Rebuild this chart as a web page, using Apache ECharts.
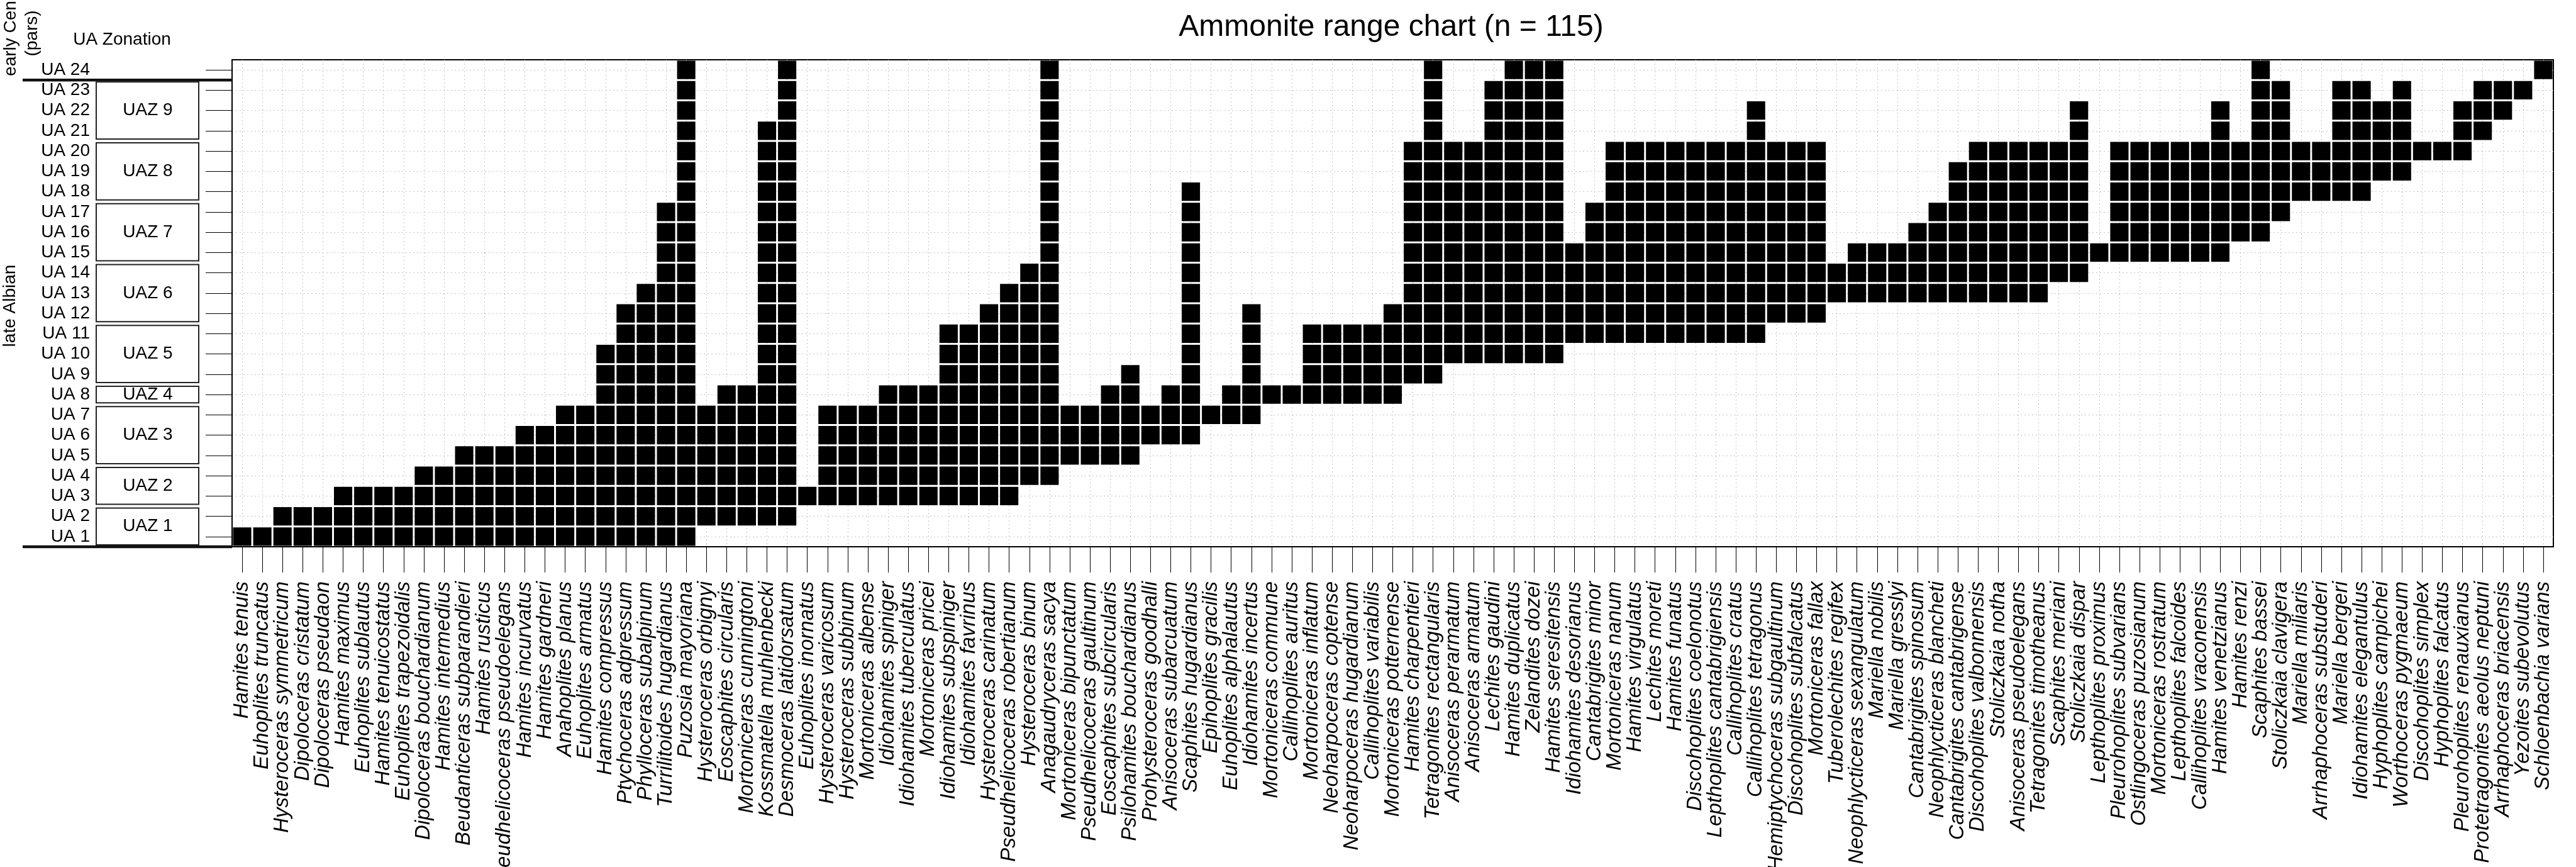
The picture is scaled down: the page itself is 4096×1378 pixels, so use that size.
<!DOCTYPE html>
<html>
<head>
<meta charset="utf-8">
<title>Ammonite range chart</title>
<script src="https://cdn.jsdelivr.net/npm/echarts@6/dist/echarts.min.js"></script>
<style>
  html, body { margin: 0; padding: 0; background: #fff; }
  #main { width: 4096px; height: 1378px; }
</style>
</head>
<body>
<div id="main"></div>
<script type="text/javascript">
// taxa in plotting order (x axis)
var taxa = [
  'Hamites tenuis', 'Euhoplites truncatus', 'Hysteroceras symmetricum', 'Dipoloceras cristatum',
  'Dipoloceras pseudaon', 'Hamites maximus', 'Euhoplites sublautus', 'Hamites tenuicostatus',
  'Euhoplites trapezoidalis', 'Dipoloceras bouchardianum', 'Hamites intermedius', 'Beudanticeras subparandieri',
  'Hamites rusticus', 'Pseudhelicoceras pseudoelegans', 'Hamites incurvatus', 'Hamites gardneri',
  'Anahoplites planus', 'Euhoplites armatus', 'Hamites compressus', 'Ptychoceras adpressum',
  'Phylloceras subalpinum', 'Turrilitoides hugardianus', 'Puzosia mayoriana', 'Hysteroceras orbignyi',
  'Eoscaphites circularis', 'Mortoniceras cunningtoni', 'Kossmatella muhlenbecki', 'Desmoceras latidorsatum',
  'Euhoplites inornatus', 'Hysteroceras varicosum', 'Hysteroceras subbinum', 'Mortoniceras albense',
  'Idiohamites spiniger', 'Idiohamites tuberculatus', 'Mortoniceras pricei', 'Idiohamites subspiniger',
  'Idiohamites favrinus', 'Hysteroceras carinatum', 'Pseudhelicoceras robertianum', 'Hysteroceras binum',
  'Anagaudryceras sacya', 'Mortoniceras bipunctatum', 'Pseudhelicoceras gaultinum', 'Eoscaphites subcircularis',
  'Psilohamites bouchardianus', 'Prohysteroceras goodhalli', 'Anisoceras subarcuatum', 'Scaphites hugardianus',
  'Epihoplites gracilis', 'Euhoplites alphalautus', 'Idiohamites incertus', 'Mortoniceras commune',
  'Callihoplites auritus', 'Mortoniceras inflatum', 'Neoharpoceras coptense', 'Neoharpoceras hugardianum',
  'Callihoplites variabilis', 'Mortoniceras potternense', 'Hamites charpentieri', 'Tetragonites rectangularis',
  'Anisoceras perarmatum', 'Anisoceras armatum', 'Lechites gaudini', 'Hamites duplicatus',
  'Zelandites dozei', 'Hamites seresitensis', 'Idiohamites desorianus', 'Cantabrigites minor',
  'Mortoniceras nanum', 'Hamites virgulatus', 'Lechites moreti', 'Hamites funatus',
  'Discohoplites coelonotus', 'Lepthoplites cantabrigiensis', 'Callihoplites cratus', 'Callihoplites tetragonus',
  'Hemiptychoceras subgaultinum', 'Discohoplites subfalcatus', 'Mortoniceras fallax', 'Tuberolechites regifex',
  'Neophlycticeras sexangulatum', 'Mariella nobilis', 'Mariella gresslyi', 'Cantabrigites spinosum',
  'Neophlycticeras blancheti', 'Cantabrigites cantabrigense', 'Discohoplites valbonnensis', 'Stoliczkaia notha',
  'Anisoceras pseudoelegans', 'Tetragonites timotheanus', 'Scaphites meriani', 'Stoliczkaia dispar',
  'Lepthoplites proximus', 'Pleurohoplites subvarians', 'Ostlingoceras puzosianum', 'Mortoniceras rostratum',
  'Lepthoplites falcoides', 'Callihoplites vraconensis', 'Hamites venetzianus', 'Hamites renzi',
  'Scaphites bassei', 'Stoliczkaia clavigera', 'Mariella miliaris', 'Arrhaphoceras substuderi',
  'Mariella bergeri', 'Idiohamites elegantulus', 'Hyphoplites campichei', 'Worthoceras pygmaeum',
  'Discohoplites simplex', 'Hyphoplites falcatus', 'Pleurohoplites renauxianus', 'Protetragonites aeolus neptuni',
  'Arrhaphoceras briacensis', 'Yezoites subevolutus', 'Schloenbachia varians'
];

// first and last unitary association of each taxon
var firstUA = [
  1, 1, 1, 1, 1, 1, 1, 1, 1, 1,
  1, 1, 1, 1, 1, 1, 1, 1, 1, 1,
  1, 1, 1, 2, 2, 2, 2, 2, 3, 3,
  3, 3, 3, 3, 3, 3, 3, 3, 3, 4,
  4, 5, 5, 5, 5, 6, 6, 6, 7, 7,
  7, 8, 8, 8, 8, 8, 8, 8, 9, 9,
  10, 10, 10, 10, 10, 10, 11, 11, 11, 11,
  11, 11, 11, 11, 11, 11, 12, 12, 12, 13,
  13, 13, 13, 13, 13, 13, 13, 13, 13, 13,
  14, 14, 15, 15, 15, 15, 15, 15, 15, 16,
  16, 17, 18, 18, 18, 18, 19, 19, 20, 20,
  20, 21, 22, 23, 24
];
var lastUA = [
  1, 1, 2, 2, 2, 3, 3, 3, 3, 4,
  4, 5, 5, 5, 6, 6, 7, 7, 10, 12,
  13, 17, 24, 7, 8, 8, 21, 24, 3, 7,
  7, 7, 8, 8, 8, 11, 11, 12, 13, 14,
  24, 7, 7, 8, 9, 7, 8, 18, 7, 8,
  12, 8, 8, 11, 11, 11, 11, 12, 20, 24,
  20, 20, 23, 24, 24, 24, 15, 17, 20, 20,
  20, 20, 20, 20, 20, 22, 20, 20, 20, 14,
  15, 15, 15, 16, 17, 19, 20, 20, 20, 20,
  20, 22, 15, 20, 20, 20, 20, 20, 22, 20,
  24, 23, 20, 20, 23, 23, 22, 23, 20, 20,
  22, 23, 23, 23, 24
];

// y axis tick labels
var uaLabels = [
  'UA 1', 'UA 2', 'UA 3', 'UA 4', 'UA 5', 'UA 6', 'UA 7', 'UA 8',
  'UA 9', 'UA 10', 'UA 11', 'UA 12', 'UA 13', 'UA 14', 'UA 15', 'UA 16',
  'UA 17', 'UA 18', 'UA 19', 'UA 20', 'UA 21', 'UA 22', 'UA 23', 'UA 24'
];

// zones made of UAs
var zoneNames = ['UAZ 1', 'UAZ 2', 'UAZ 3', 'UAZ 4', 'UAZ 5', 'UAZ 6', 'UAZ 7', 'UAZ 8', 'UAZ 9'];
var zoneLow   = [1, 3, 5, 8, 9, 12, 15, 18, 21];
var zoneHigh  = [2, 4, 7, 8, 11, 14, 17, 20, 23];

// stage boundaries (lowest UA of each stage)
var stageLow = [1, 24];

var FONT = "'Liberation Sans', Helvetica, Arial, sans-serif";

var myChart = echarts.init(document.getElementById('main'));

function renderRange(params, api) {
    var i = api.value(0), lo = api.value(1), hi = api.value(2);
    var size = api.size([1, 1]);
    var w = size[0] - 3, h = size[1] - 3;
    var kids = [];
    for (var u = lo; u <= hi; u++) {
        var c = api.coord([i, u - 1]);
        kids.push({
            type: 'rect',
            shape: { x: c[0] - w / 2, y: c[1] - h / 2, width: w, height: h },
            style: { fill: '#000' }
        });
    }
    return { type: 'group', children: kids };
}

function renderZone(params, api) {
    var lo = api.value(1), hi = api.value(2);
    var rowH = api.size([1, 1])[1];
    var top = api.coord([0, hi - 1])[1] - rowH / 2 + 3;
    var bot = api.coord([0, lo - 1])[1] + rowH / 2 - 3;
    var left = params.coordSys.x;
    return {
        type: 'group',
        children: [
            {
                type: 'rect',
                shape: { x: left - 216, y: top, width: 163, height: bot - top },
                style: { fill: '#fff', stroke: '#222', lineWidth: 2 }
            },
            {
                type: 'text',
                style: {
                    text: zoneNames[params.dataIndex],
                    x: left - 134, y: (top + bot) / 2,
                    align: 'center', verticalAlign: 'middle',
                    fontSize: 28, fontFamily: FONT, fill: '#000'
                }
            }
        ]
    };
}

function renderStage(params, api) {
    var lo = api.value(1);
    var rowH = api.size([1, 1])[1];
    var y = api.coord([0, lo - 1])[1] + rowH / 2;
    var left = params.coordSys.x;
    return {
        type: 'line',
        shape: { x1: left - 333, y1: y, x2: left, y2: y },
        style: { stroke: '#111', lineWidth: 4.5 }
    };
}

var option = {
    backgroundColor: '#fff',
    animation: false,
    graphic: [
        { type: 'text', x: 2212, y: 44,
          style: { text: 'Ammonite range chart (n = 115)', align: 'center', verticalAlign: 'middle',
                   fontSize: 48, fontFamily: FONT, fill: '#000' } },
        { type: 'text', x: 194, y: 63,
          style: { text: 'UA Zonation', align: 'center', verticalAlign: 'middle',
                   fontSize: 28, fontFamily: FONT, fill: '#000' } },
        { type: 'text', x: 16, y: 486, rotation: Math.PI / 2,
          style: { text: 'late Albian', align: 'center', verticalAlign: 'middle',
                   fontSize: 28, fontFamily: FONT, fill: '#000' } },
        { type: 'text', x: 17, y: 61, rotation: Math.PI / 2,
          style: { text: 'early Cen', align: 'center', verticalAlign: 'middle',
                   fontSize: 28, fontFamily: FONT, fill: '#000' } },
        { type: 'text', x: 51, y: 53, rotation: Math.PI / 2,
          style: { text: '(pars)', align: 'center', verticalAlign: 'middle',
                   fontSize: 28, fontFamily: FONT, fill: '#000' } }
    ],
    grid: {
        left: 369, right: 36, top: 95, bottom: 509,
        show: true, borderColor: '#000', borderWidth: 2,
        containLabel: false,
        outerBoundsMode: 'none'
    },
    xAxis: {
        type: 'category',
        data: taxa,
        boundaryGap: true,
        axisLine: { show: true, lineStyle: { color: '#000', width: 2 } },
        axisTick: { show: true, alignWithLabel: true, length: 41, lineStyle: { color: '#000', width: 1 } },
        axisLabel: {
            interval: 0, rotate: 90, margin: 55,
            fontSize: 33, fontStyle: 'italic', fontFamily: FONT, color: '#000'
        },
        splitLine: { show: true, alignWithLabel: true, lineStyle: { color: '#c4c4c4', width: 1, type: [2, 4] } }
    },
    yAxis: {
        type: 'category',
        data: uaLabels,
        boundaryGap: true,
        axisLine: { show: true, lineStyle: { color: '#000', width: 2 } },
        axisTick: { show: true, alignWithLabel: true, length: 42, lineStyle: { color: '#000', width: 1 } },
        axisLabel: {
            interval: 0, margin: 226, align: 'right',
            fontSize: 28, fontFamily: FONT, color: '#000'
        },
        splitLine: { show: true, alignWithLabel: true, lineStyle: { color: '#c4c4c4', width: 1, type: [2, 4] } }
    },
    series: [
        {
            name: 'ranges',
            type: 'custom',
            renderItem: renderRange,
            encode: { x: 0, y: 1 },
            data: taxa.map(function (t, i) { return [i, firstUA[i], lastUA[i]]; }),
            z: 3
        },
        {
            name: 'zones',
            type: 'custom',
            renderItem: renderZone,
            clip: false,
            data: zoneNames.map(function (n, k) { return [0, zoneLow[k], zoneHigh[k]]; }),
            z: 3
        },
        {
            name: 'stages',
            type: 'custom',
            renderItem: renderStage,
            clip: false,
            data: stageLow.map(function (s) { return [0, s]; }),
            z: 4
        }
    ]
};
myChart.setOption(option);
</script>
</body>
</html>
